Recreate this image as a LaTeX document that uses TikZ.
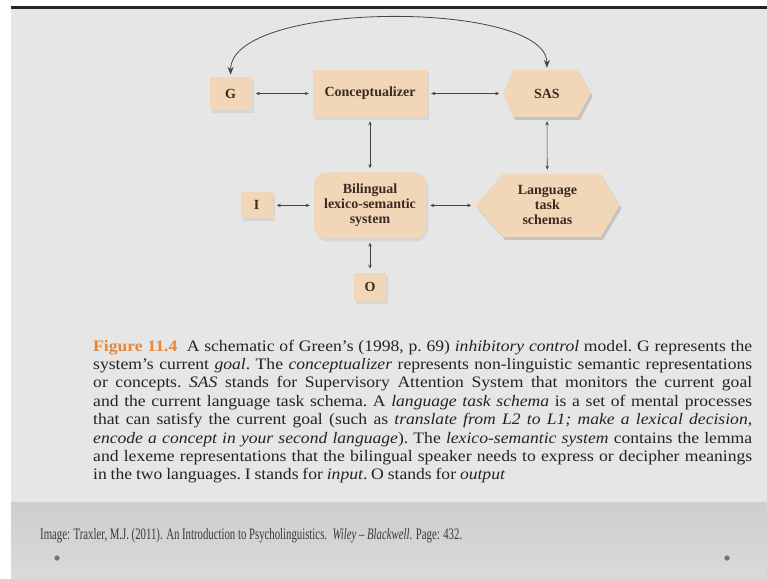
\documentclass[tikz,border=0pt]{standalone}
\usepackage{fontspec}
\setmainfont{Liberation Serif}
\newfontfamily\capfont[Ligatures=TeX, FakeStretch=1.1]{Liberation Serif}
\newcommand{\capspacing}{\frenchspacing\spaceskip=.24em plus .3em minus .08em\xspaceskip=\spaceskip\relax}
\newcommand{\capline}[1]{\makebox[659pt][s]{\capspacing #1}}
\usepackage{tikz}
\usetikzlibrary{positioning,shadows,arrows.meta,backgrounds}
\definecolor{boxtan}{RGB}{242,214,184}
\definecolor{slidegray}{RGB}{230,230,230}
\definecolor{bandtop}{RGB}{206,206,206}
\definecolor{bandlow}{RGB}{218,218,218}
\definecolor{figorange}{RGB}{228,136,58}
\definecolor{inktext}{RGB}{38,34,32}
\definecolor{boxink}{RGB}{58,42,32}

\begin{document}
\begin{tikzpicture}[x=1pt, y=-1pt, >={Stealth[length=4pt,width=3.4pt]},
      boxtext/.style={rectangle, inner sep=1pt, align=center, text=boxink,
                  font=\fontsize{14}{15}\selectfont\bfseries},
      box/.style={boxtext, fill=boxtan,
                  drop shadow={shadow xshift=2pt, shadow yshift=-3pt, opacity=.15}},
      roundbox/.style={box, rounded corners=12pt},
      hexbox/.style={boxtext},
      hexpath/.style n args={3}{insert path={(#1.west) -- ([xshift=#2]#1.north west)
                  -- ([xshift=-#3]#1.north east) -- (#1.east) -- ([xshift=-#3]#1.south east)
                  -- ([xshift=#2]#1.south west) -- cycle}},
      link/.style={<->, draw=inktext!85, line width=0.6pt, shorten <=4pt, shorten >=4pt},
      loopline/.style={<->, draw=inktext!85, line width=0.8pt, shorten <=2pt, shorten >=2pt,
                  >={Stealth[length=8pt,width=6pt]}}]
    \useasboundingbox (0,0) rectangle (767,578);
    % slide backdrop
    \begin{scope}[on background layer]
      \fill[white] (0,0) rectangle (767,578);
      \fill[slidegray] (11,9) rectangle (767,578);
      \fill[black!85] (11,6) rectangle (767,9);
      \shade[top color=bandtop, bottom color=bandlow] (11,502) rectangle (767,578);
    \end{scope}
    % diagram
    \node[box, minimum width=114pt, minimum height=47pt] (concept) at (370,93.5) {Conceptualizer};
    \node[box, minimum width=42pt, minimum height=33pt, left=61pt of concept] (goal) {G};
    \node[hexbox, minimum width=87pt, minimum height=47pt, right=76pt of concept] (sas) {SAS};
    \node[roundbox, minimum width=112pt, minimum height=66pt, below=55pt of concept] (lexsem)
      {Bilingual\\lexico-semantic\\system};
    \node[box, minimum width=32pt, minimum height=26pt, left=41pt of lexsem] (input) {I};
    \node[hexbox, minimum width=144pt, minimum height=63pt, right=49pt of lexsem] (schemas)
      {Language\\task\\schemas};
    \node[box, minimum width=32pt, minimum height=28pt, below=34pt of lexsem] (output) {O};
    \begin{scope}[on background layer]
      \fill[black, opacity=.15, transform canvas={xshift=2pt, yshift=-3pt}, hexpath={sas}{10pt}{13pt}];
      \fill[boxtan, hexpath={sas}{10pt}{13pt}];
      \fill[black, opacity=.15, transform canvas={xshift=2pt, yshift=-3pt}, hexpath={schemas}{28pt}{19pt}];
      \fill[boxtan, hexpath={schemas}{28pt}{19pt}];
    \end{scope}
    \draw[link] (goal) -- (concept);
    \draw[link] (concept) -- (sas);
    \draw[link] (concept) -- (lexsem);
    \draw[link] (sas) -- (schemas);
    \draw[link] (input) -- (lexsem);
    \draw[link] (lexsem) -- (schemas);
    \draw[link] (lexsem) -- (output);
    \draw[loopline] (goal.north) .. controls +(0,-77) and +(0,-70) .. (sas.north);
    % caption
    \node[anchor=base west, text width=659pt, inner sep=0pt, align=left, text=inktext,
          font=\capfont\fontsize{16}{18.4}\selectfont] (caption) at (93,351)
      {\capline{\textcolor{figorange}{\textbf{Figure 11.4}}\ \ A schematic of Green's (1998, p.~69) \textit{inhibitory control} model. G represents the}\\
       \capline{system's current \textit{goal}. The \textit{conceptualizer} represents non-linguistic semantic representations}\\
       \capline{or concepts. \textit{SAS} stands for Supervisory Attention System that monitors the current goal}\\
       \capline{and the current language task schema. A \textit{language task schema} is a set of mental processes}\\
       \capline{that can satisfy the current goal (such as \textit{translate from L2 to L1; make a lexical decision,}}\\
       \capline{\textit{encode a concept in your second language}). The \textit{lexico-semantic system} contains the lemma}\\
       \capline{and lexeme representations that the bilingual speaker needs to express or decipher meanings}\\
       \capspacing in the two languages. I stands for \textit{input}. O stands for \textit{output}};
    % source line
    \node[anchor=base west, inner sep=0pt, text=inktext!90, font=\fontsize{16}{18}\selectfont] (source) at (40,539)
      {\resizebox{422pt}{\height}{Image: Traxler, M.J. (2011). An Introduction to Psycholinguistics.\ \ \textit{Wiley -- Blackwell}. Page: 432.}};
    \fill[black!55] (57,558) circle (2.6pt);
    \fill[black!55] (727,558) circle (2.6pt);
  \end{tikzpicture}
\end{document}
